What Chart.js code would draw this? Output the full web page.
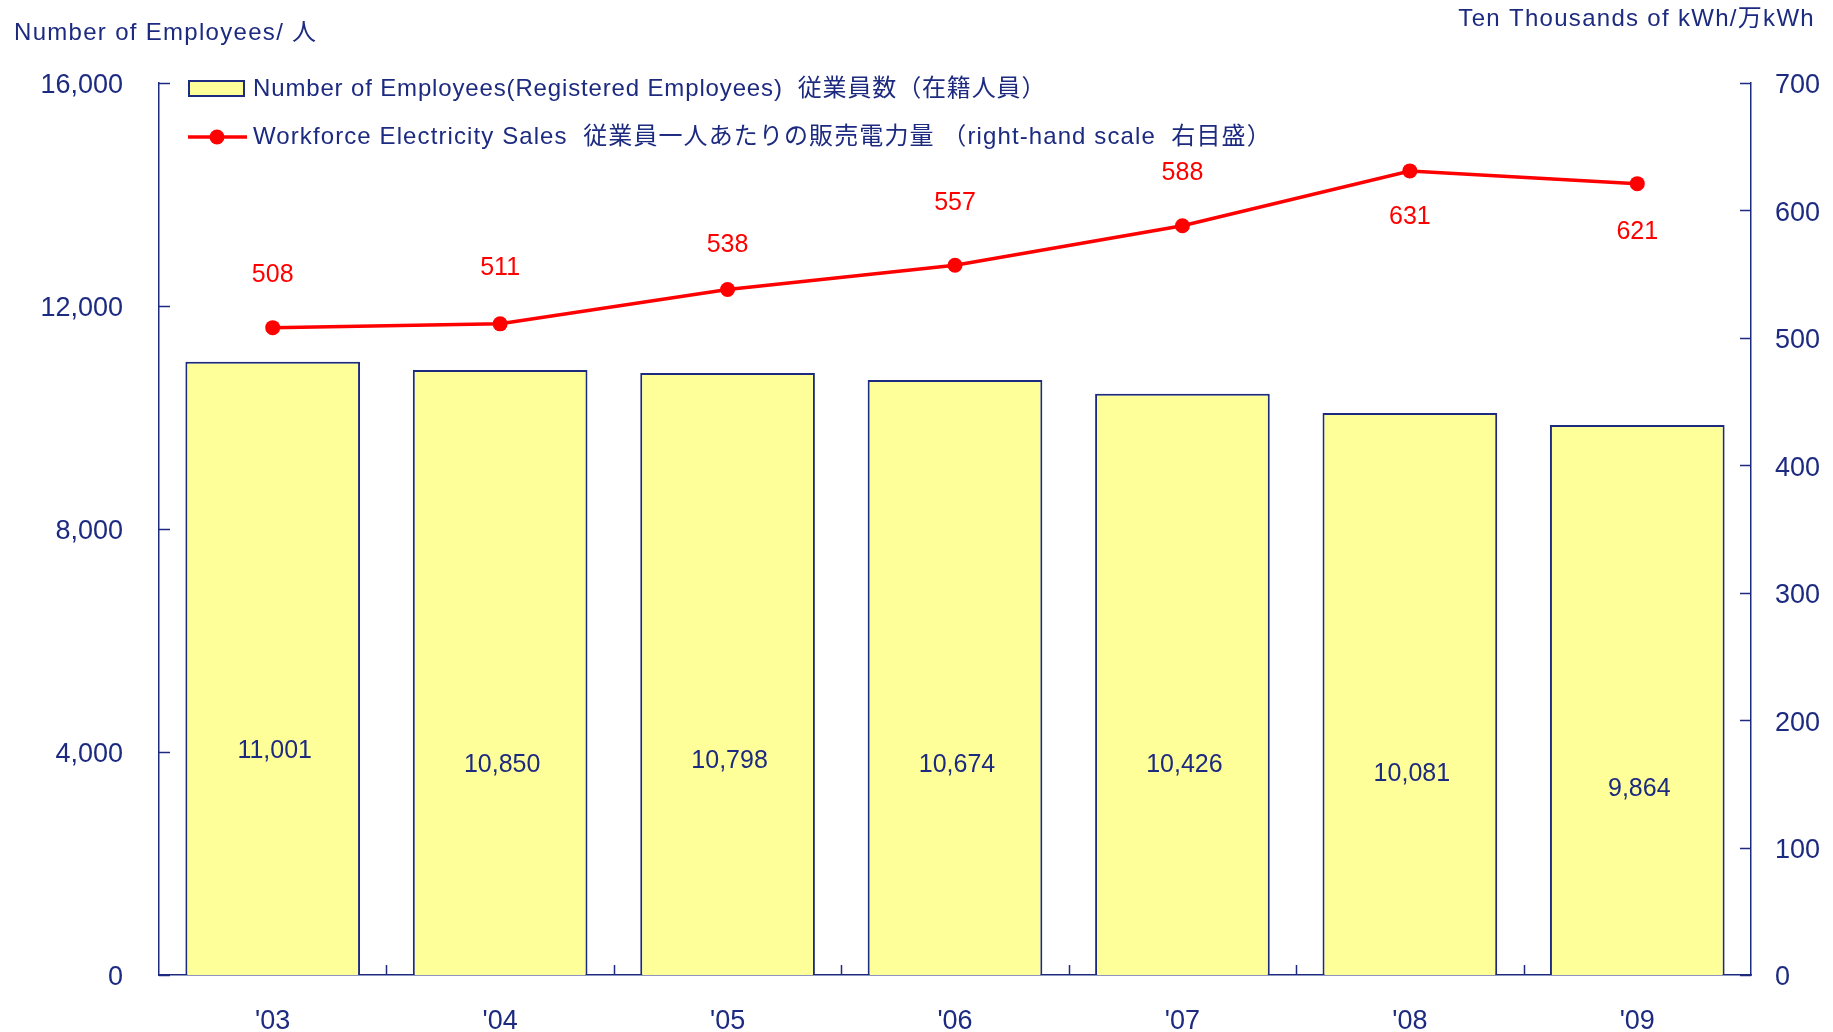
<!DOCTYPE html>
<html>
<head>
<meta charset="utf-8">
<script src="https://cdn.jsdelivr.net/npm/chart.js@4"></script>
<style>
  html, body { margin: 0; padding: 0; background: #ffffff; }
  #wrap { width: 1833px; height: 1032px; }
</style>
</head>
<body>
<div id="wrap"><canvas id="c" width="1833" height="1032"></canvas></div>
<script>
// ---- data ----
const years = ["'03", "'04", "'05", "'06", "'07", "'08", "'09"];
const employees = [11001, 10850, 10798, 10674, 10426, 10081, 9864];
const salesPerEmployee = [508, 511, 538, 557, 588, 631, 621];
const leftAxisRange = [0, 16000, 4000];   // min, max, step
const rightAxisRange = [0, 700, 100];     // min, max, step
const leftTitle = "Number of Employees/ 人";
const rightTitle = "Ten Thousands of kWh/万kWh";
const barLegend = "Number of Employees(Registered Employees)  従業員数（在籍人員）";
const lineLegend = "Workforce Electricity Sales  従業員一人あたりの販売電力量 （right-hand scale  右目盛）";

// ---- styles ----
const NAVY = '#1C2A80';
const RED = '#FF0000';
const YELLOW = '#FFFF99';
const FONT = "'Liberation Sans', Arial, 'Noto Sans CJK JP', sans-serif";
const fmt = v => Number(v).toLocaleString('en-US');

const overlay = {
  id: 'overlay',
  afterDraw(chart, args, opts) {
    const ctx = chart.ctx;
    const ca = chart.chartArea;
    const x = chart.scales.x, y = chart.scales.y, y1 = chart.scales.y1;
    ctx.save();
    // inward tick marks
    ctx.strokeStyle = NAVY;
    ctx.lineWidth = 1.5;
    ctx.beginPath();
    y.ticks.forEach(t => {
      const p = Math.round(y.getPixelForValue(t.value)) + 0.5;
      ctx.moveTo(ca.left, p); ctx.lineTo(ca.left + 11, p);
    });
    y1.ticks.forEach(t => {
      const p = Math.round(y1.getPixelForValue(t.value)) + 0.5;
      ctx.moveTo(ca.right, p); ctx.lineTo(ca.right - 11, p);
    });
    for (let i = 1; i < years.length; i++) {
      const p = Math.round((x.getPixelForValue(i - 1) + x.getPixelForValue(i)) / 2) + 0.5;
      ctx.moveTo(p, ca.bottom); ctx.lineTo(p, ca.bottom - 10);
    }
    ctx.stroke();

    // bar value labels
    ctx.fillStyle = NAVY;
    ctx.font = '25px ' + FONT;
    ctx.textAlign = 'center';
    ctx.textBaseline = 'middle';
    employees.forEach((v, i) => {
      ctx.fillText(fmt(v), x.getPixelForValue(i) + 2, y.getPixelForValue(opts.barLabelAt[i]));
    });
    // line value labels
    ctx.fillStyle = RED;
    ctx.font = '25px ' + FONT;
    salesPerEmployee.forEach((v, i) => {
      ctx.fillText(String(v), x.getPixelForValue(i), y1.getPixelForValue(v) + opts.lineLabelDy[i]);
    });

    // axis titles
    ctx.fillStyle = NAVY;
    ctx.font = '24px ' + FONT;
    ctx.letterSpacing = '1.3px';
    ctx.textAlign = 'left';
    ctx.fillText(leftTitle, 14, 33);
    ctx.textAlign = 'right';
    ctx.fillText(rightTitle, 1815, 19);

    // legend
    const lx = ca.left + 30;
    ctx.fillStyle = YELLOW;
    ctx.fillRect(lx, 81, 55, 15);
    ctx.strokeStyle = NAVY;
    ctx.lineWidth = 2;
    ctx.strokeRect(lx, 81, 55, 15);
    ctx.strokeStyle = RED;
    ctx.lineWidth = 3.5;
    ctx.beginPath();
    ctx.moveTo(lx - 1, 137); ctx.lineTo(lx + 58, 137);
    ctx.stroke();
    ctx.fillStyle = RED;
    ctx.beginPath();
    ctx.arc(lx + 28, 137, 7.5, 0, Math.PI * 2);
    ctx.fill();
    ctx.fillStyle = NAVY;
    ctx.font = '24px ' + FONT;
    ctx.textAlign = 'left';
    ctx.letterSpacing = '0.85px';
    ctx.fillText(barLegend, lx + 64, 89);
    ctx.letterSpacing = '1.1px';
    ctx.fillText(lineLegend, lx + 64, 137);
    ctx.letterSpacing = '0px';
    ctx.restore();
  }
};

new Chart(document.getElementById('c'), {
  type: 'bar',
  data: {
    labels: years,
    datasets: [
      {
        type: 'line',
        label: lineLegend,
        data: salesPerEmployee,
        yAxisID: 'y1',
        borderColor: RED,
        backgroundColor: RED,
        borderWidth: 3.5,
        pointRadius: 7.5,
        pointBackgroundColor: RED,
        pointBorderWidth: 0,
        tension: 0,
        order: 1
      },
      {
        type: 'bar',
        label: barLegend,
        data: employees,
        yAxisID: 'y',
        backgroundColor: YELLOW,
        borderColor: NAVY,
        borderWidth: 2,
        barPercentage: 0.768,
        categoryPercentage: 1,
        order: 2
      }
    ]
  },
  options: {
    responsive: false,
    animation: false,
    devicePixelRatio: 1,
    layout: { padding: { top: 83, left: 0, right: 0, bottom: 0 } },
    plugins: {
      legend: { display: false },
      tooltip: { enabled: false },
      overlay: {
        barLabelAt: [4023, 3767, 3839, 3767, 3767, 3605, 3336],
        lineLabelDy: [-53, -56, -44, -62, -53, 46, 48]
      }
    },
    scales: {
      x: {
        type: 'category',
        offset: true,
        grid: { display: false, drawTicks: false },
        border: { display: true, color: NAVY, width: 1.5 },
        ticks: { color: NAVY, font: { family: FONT, size: 27 }, padding: 30 },
        afterFit: s => { s.height = 57; }
      },
      y: {
        position: 'left',
        min: leftAxisRange[0], max: leftAxisRange[1],
        grid: { display: false, drawTicks: false },
        border: { display: true, color: NAVY, width: 1.5 },
        ticks: { stepSize: leftAxisRange[2], color: NAVY, font: { family: FONT, size: 27 }, padding: 36, labelOffset: 3, callback: v => fmt(v) },
        afterFit: s => { s.width = 159; }
      },
      y1: {
        position: 'right',
        min: rightAxisRange[0], max: rightAxisRange[1],
        grid: { display: false, drawTicks: false },
        border: { display: true, color: NAVY, width: 1.5 },
        ticks: { stepSize: rightAxisRange[2], color: NAVY, font: { family: FONT, size: 27 }, padding: 24, labelOffset: 3 },
        afterFit: s => { s.width = 82; }
      }
    }
  },
  plugins: [overlay]
});
</script>
</body>
</html>
